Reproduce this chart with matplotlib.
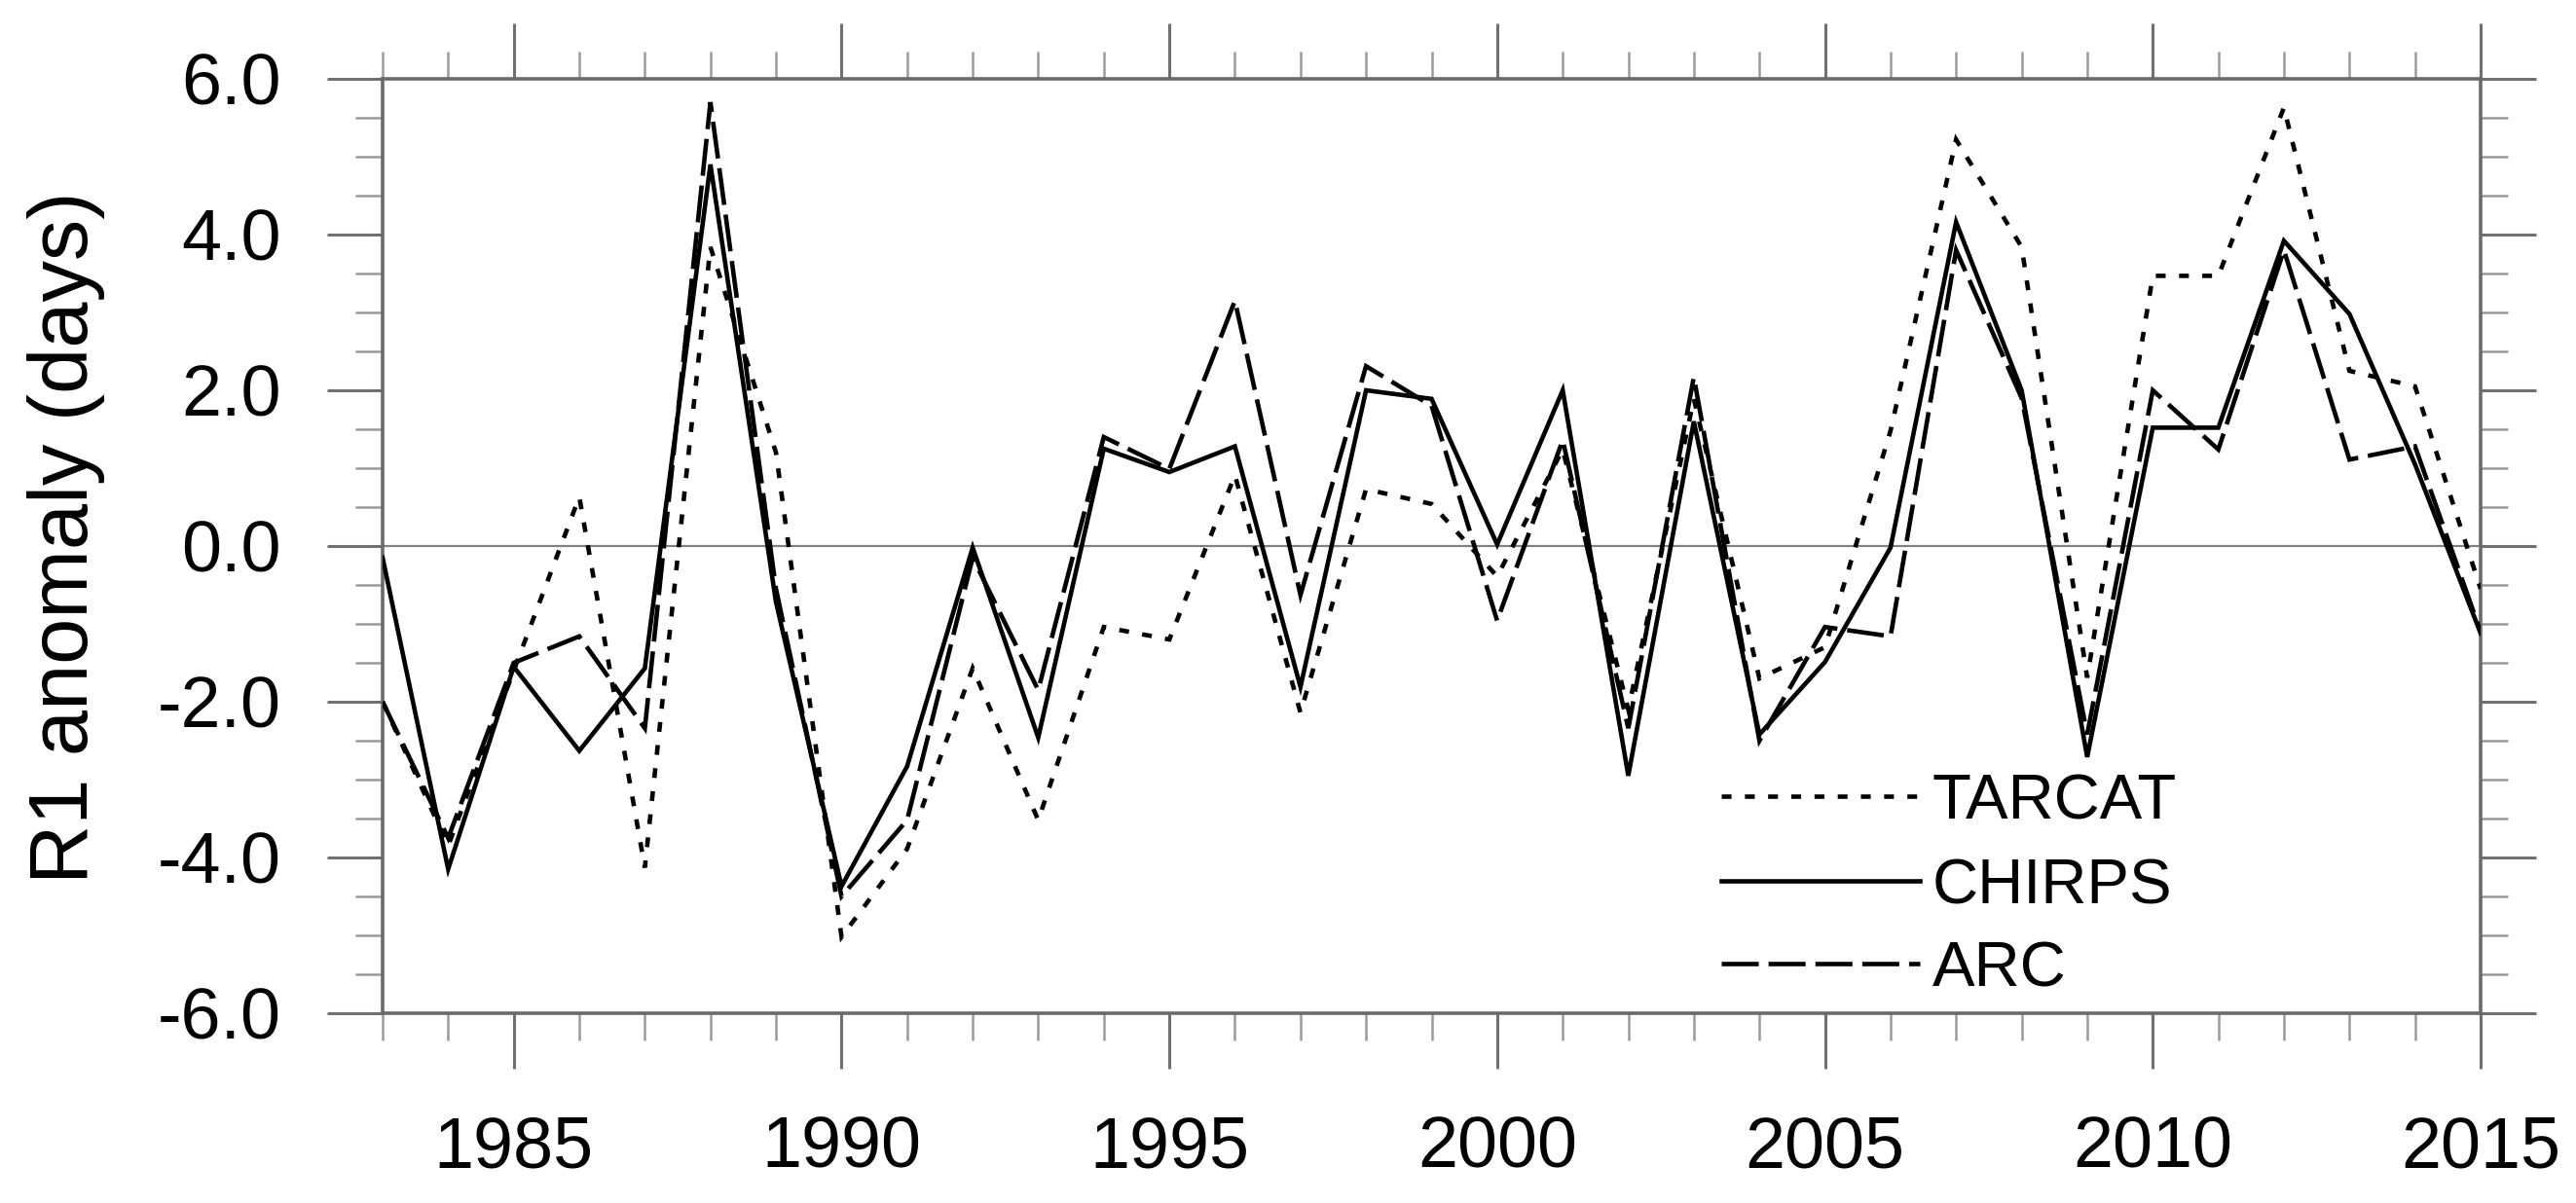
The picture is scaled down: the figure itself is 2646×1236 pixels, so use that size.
import matplotlib
matplotlib.use("Agg")
import matplotlib.pyplot as plt
from matplotlib.ticker import MultipleLocator, FormatStrFormatter
from matplotlib.lines import Line2D

plt.rcParams['font.family'] = ['Liberation Sans', 'DejaVu Sans']
plt.rcParams['axes.unicode_minus'] = False

years = list(range(1983, 2016))
tarcat = [-2.0, -3.85, -1.6, 0.63, -4.13, 3.84, 1.2, -5.02, -3.89, -1.57,
          -3.52, -1.04, -1.2, 0.91, -2.14, 0.73, 0.54, -0.39, 1.24, -2.1,
          1.89, -1.7, -1.3, 1.48, 5.22, 3.84, -1.69, 3.47, 3.47, 5.63,
          2.25, 2.05, -0.55]
chirps = [-0.15, -4.15, -1.55, -2.63, -1.57, 4.9, -0.72, -4.37, -2.83, -0.02,
          -2.46, 1.25, 0.95, 1.28, -1.81, 2.0, 1.89, 0.02, 2.0, -2.95,
          1.6, -2.42, -1.49, -0.02, 4.16, 2.0, -2.71, 1.52, 1.52, 3.92,
          2.98, 1.05, -1.12]
arc = [-2.0, -3.75, -1.5, -1.16, -2.34, 5.7, -0.55, -4.5, -3.52, -0.15,
       -1.85, 1.4, 0.99, 3.15, -0.63, 2.31, 1.8, -0.96, 1.36, -2.34,
       2.17, -2.5, -1.04, -1.16, 3.8, 1.9, -2.42, 2.0, 1.24, 3.8,
       1.11, 1.28, -1.1]
series_names = ['TARCAT', 'CHIRPS', 'ARC']
ylabel = 'R1 anomaly (days)'

W, H = 2646, 1236
fig = plt.figure(figsize=(W / 100, H / 100), dpi=100)
L, R, T, B = 393, 2548, 81, 1041
ax = fig.add_axes([L / W, (H - B) / H, (R - L) / W, (B - T) / H])

lw = 3.3
styles = {
    'TARCAT': dict(linestyle=(0, (2.2, 3.0))),
    'CHIRPS': dict(linestyle='-'),
    'ARC': dict(linestyle=(0, (8.3, 2.2))),
}
data = {'TARCAT': tarcat, 'CHIRPS': chirps, 'ARC': arc}

ax.axhline(0, color='#808080', lw=1.6, zorder=1)
for name in series_names:
    ax.plot(years, data[name], color='black', lw=lw, zorder=3,
            solid_joinstyle='miter', dash_joinstyle='miter', **styles[name])

ax.set_xlim(1983, 2015)
ax.set_ylim(-6, 6)
ax.xaxis.set_major_locator(MultipleLocator(5))
ax.xaxis.set_minor_locator(MultipleLocator(1))
ax.yaxis.set_major_locator(MultipleLocator(2))
ax.yaxis.set_minor_locator(MultipleLocator(0.5))
ax.yaxis.set_major_formatter(FormatStrFormatter('%.1f'))

for sp in ax.spines.values():
    sp.set_linewidth(2.6)
    sp.set_color('#6a6a6a')

ax.tick_params(which='major', direction='out', length=41, width=2.2,
               color='#707070', labelsize=53,
               top=True, right=True, labeltop=False, labelright=False)
ax.tick_params(which='minor', direction='out', length=20, width=1.8,
               color='#9a9a9a', top=True, right=True)
ax.tick_params(axis='x', which='major', pad=34)
ax.tick_params(axis='y', which='major', pad=34)

fig.text(68 / W, 1 - 552 / H, ylabel, rotation=90, ha='center', va='center',
         fontsize=61)

# legend drawn manually at its place in axes coordinates
x0, x1, xt = 0.638, 0.7327, 0.7387
rows = [0.2323, 0.1417, 0.0531]
for name, yr in zip(series_names, rows):
    ax.add_line(Line2D([x0, x1], [yr, yr], transform=ax.transAxes,
                       color='black', lw=lw, **styles[name]))
    ax.text(xt, yr, name, transform=ax.transAxes, fontsize=47,
            ha='left', va='center_baseline')

fig.savefig('out.png', dpi=100, facecolor='white')
